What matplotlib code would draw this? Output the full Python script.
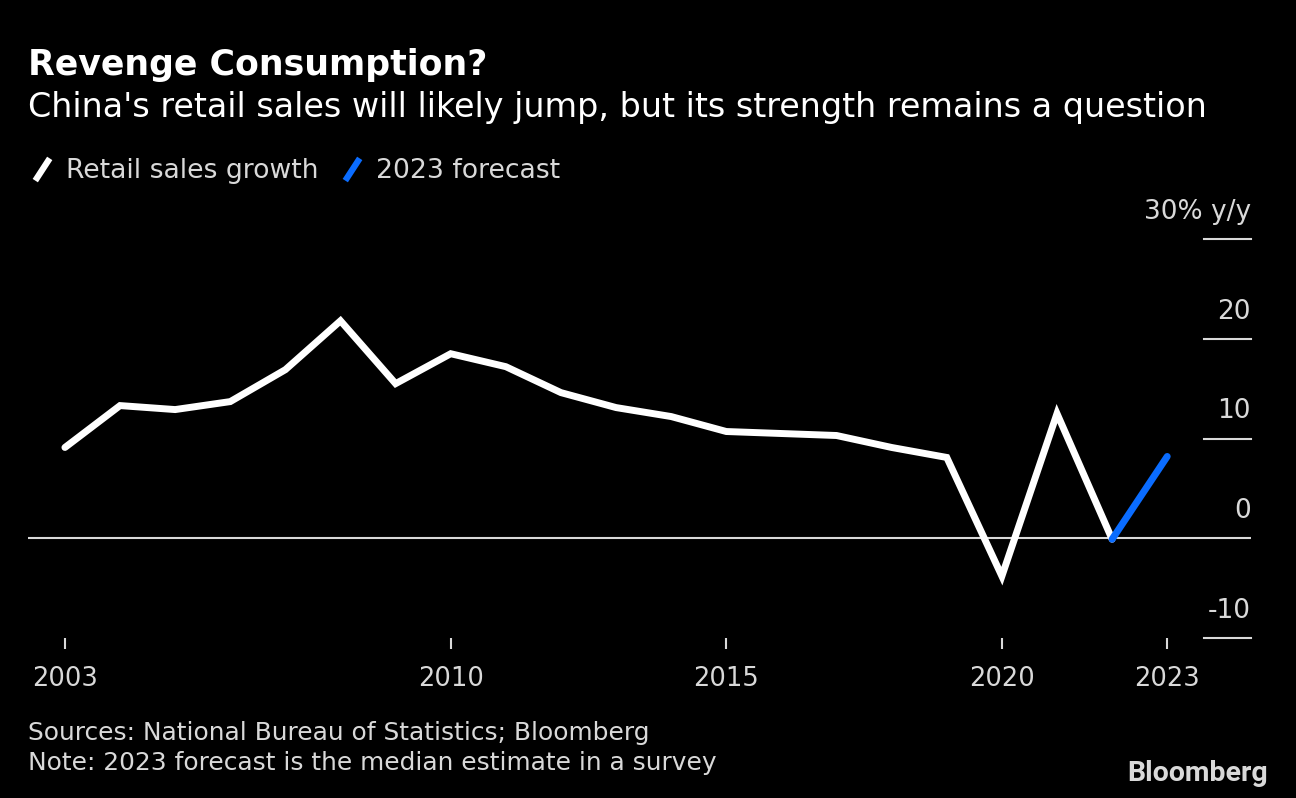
import matplotlib
matplotlib.use("Agg")
import matplotlib.pyplot as plt
import matplotlib.transforms as mtransforms
from matplotlib.lines import Line2D
from matplotlib.path import Path

plt.rcParams['font.family'] = ['DejaVu Sans']

# data (% y/y)
years = [2003, 2004, 2005, 2006, 2007, 2008, 2009, 2010, 2011, 2012, 2013,
         2014, 2015, 2016, 2017, 2018, 2019, 2020, 2021, 2022]
growth = [9.1, 13.3, 12.9, 13.7, 16.9, 21.8, 15.5, 18.5, 17.2, 14.6, 13.1,
          12.2, 10.7, 10.5, 10.3, 9.1, 8.1, -3.8, 12.5, -0.1]
fc_years = [2022, 2023]
fc_values = [-0.1, 8.2]

xticks = [2003, 2010, 2015, 2020, 2023]
yticks = [-10, 0, 10, 20, 30]
ylabels = ['-10', '0', '10', '20', '30% y/y']

bg = 'black'
txt = '#d9d9d9'
blue = '#0a6cff'

W, H = 1296, 798
fig = plt.figure(figsize=(W / 100, H / 100), dpi=100, facecolor=bg)
ax = fig.add_axes([28 / W, (H - 638) / H, (1251 - 28) / W, (638 - 239) / H])
ax.set_facecolor(bg)

ax.plot(years, growth, color='white', lw=5, solid_joinstyle='miter',
        solid_capstyle='round', zorder=3)
ax.plot(fc_years, fc_values, color=blue, lw=5, solid_capstyle='round', zorder=4)

ax.set_xlim(2002.33, 2024.52)
ax.set_ylim(-10, 30)

# grid: full zero line, short stubs on the right for others
gstart = (1204 - 28) / (1251 - 28)
for v, lab in zip(yticks, ylabels):
    if v == 0:
        ax.axhline(0, color=txt, lw=1.5, zorder=2)
    else:
        ax.axhline(v, xmin=gstart, xmax=1, color=txt, lw=1.5, clip_on=False)
    trans = mtransforms.offset_copy(
        mtransforms.blended_transform_factory(ax.transAxes, ax.transData),
        fig=fig, x=0, y=14, units='dots')
    ax.text(1, v, lab, transform=trans, ha='right', va='bottom',
            color=txt, fontsize=19)

for s in ax.spines.values():
    s.set_visible(False)
ax.set_yticks([])
ax.set_xticks(xticks)
ax.set_xticklabels([str(x) for x in xticks])
ax.tick_params(axis='x', colors=txt, length=8, width=1.5, pad=12,
               labelsize=18.5, labelcolor=txt)

# titles
fig.text(28 / W, 1 - 75 / H, 'Revenge Consumption?', color='white',
         fontsize=25, fontweight='bold', va='baseline')
fig.text(28 / W, 1 - 117 / H,
         "China's retail sales will likely jump, but its strength remains a question",
         color='white', fontsize=24, va='baseline')

# legend with slash markers
slash = Path([(-0.65, -1), (0.65, 1)], [Path.MOVETO, Path.LINETO])
handles = [
    Line2D([], [], color='white', ls='none', marker=slash, markersize=16,
           markeredgewidth=4.5, label='Retail sales growth'),
    Line2D([], [], color=blue, ls='none', marker=slash, markersize=16,
           markeredgewidth=4.5, label='2023 forecast'),
]
fig.legend(handles=handles, loc='upper left', bbox_to_anchor=(3 / W, 1 - 134 / H),
           ncol=2, frameon=False, fontsize=19.2, labelcolor=txt,
           handlelength=1.1, handletextpad=0.35, columnspacing=0.7)

# footer
fig.text(28 / W, 1 - 740 / H, 'Sources: National Bureau of Statistics; Bloomberg',
         color=txt, fontsize=17.9, va='baseline')
fig.text(28 / W, 1 - 770 / H, 'Note: 2023 forecast is the median estimate in a survey',
         color=txt, fontsize=17.9, va='baseline')
fig.text(1268 / W, 1 - 781 / H, 'Bloomberg', color=txt, fontsize=20.5,
         family=['Roboto', 'DejaVu Sans'], fontweight='bold', ha='right',
         va='baseline')

fig.savefig('out.png', dpi=100, facecolor=bg)
